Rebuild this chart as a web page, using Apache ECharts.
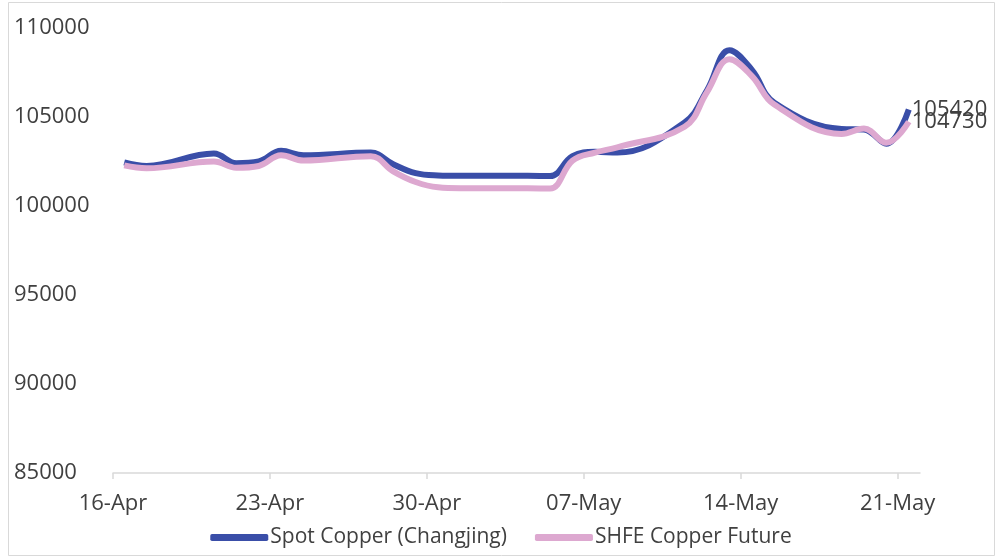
<!DOCTYPE html>
<html>
<head>
<meta charset="utf-8">
<script src="https://cdn.jsdelivr.net/npm/echarts@6/dist/echarts.min.js"></script>
<style>
html,body{margin:0;padding:0;background:#fff;}
#c{width:1002px;height:558px;}
</style>
</head>
<body>
<div id="c"></div>
<script>
// Data (2026, daily, trading days + May Day holiday flat values)
const dates = ['2026-04-16','2026-04-17','2026-04-20','2026-04-21','2026-04-22','2026-04-23','2026-04-24',
  '2026-04-27','2026-04-28','2026-04-29','2026-04-30','2026-05-01','2026-05-02','2026-05-03','2026-05-04','2026-05-05',
  '2026-05-06','2026-05-07','2026-05-08','2026-05-11','2026-05-12','2026-05-13','2026-05-14','2026-05-15',
  '2026-05-18','2026-05-19','2026-05-20','2026-05-21'];
const spotCopper = [102450,102250,102950,102400,102500,103100,102850,
  103000,102350,101850,101720,101700,101700,101700,101700,101680,
  102800,103050,103000,104700,106500,108750,107650,105800,
  104330,104300,103500,105420];
const shfeCopper = [102280,102120,102500,102150,102250,102850,102550,
  102800,101950,101350,101050,101000,101000,101000,101000,100980,
  102550,103000,103300,104450,106400,108250,107300,105700,
  104050,104350,103550,104730];
const tickLabels = ['16-Apr','23-Apr','30-Apr','07-May','14-May','21-May'];
const seriesNames = ['Spot Copper (Changjing)','SHFE Copper Future'];

const startDate = Date.UTC(2026,3,16);
function dayOffset(s){
  const p = s.split('-').map(Number);
  return (Date.UTC(p[0],p[1]-1,p[2]) - startDate)/86400000;
}
const xs = dates.map(d => dayOffset(d) + 0.5);
const spotData = xs.map((x,i)=>[x, spotCopper[i]]);
const shfeData = xs.map((x,i)=>[x, shfeCopper[i]]);

const FONT = 'Open Sans';
const TXT = '#404040';
const chart = echarts.init(document.getElementById('c'), null, {renderer:'canvas'});
function endLbl(){
  return {
    show:true, distance:3,
    fontFamily:FONT, fontSize:22, color:TXT,
    formatter: p => String(p.value[1])
  };
}
chart.setOption({
  animation:false,
  backgroundColor:'#fff',
  graphic:[{type:'rect', shape:{x:8.5,y:2.5,width:986,height:553}, style:{fill:'none',stroke:'#d9d9d9',lineWidth:1}, silent:true, z:-10}],
  grid:{left:113, right:82, top:28, bottom:85, containLabel:false},
  legend:{
    data:seriesNames, bottom:5, left:'center',
    itemWidth:58, itemHeight:7, itemGap:28, icon:'roundRect',
    textStyle:{fontFamily:FONT, fontSize:21, color:TXT, padding:[0,0,0,-3]}
  },
  xAxis:{
    type:'value', min:0, max:36, interval:7,
    axisLine:{show:true, lineStyle:{color:'#d9d9d9', width:1.5}},
    axisTick:{show:true, length:6, lineStyle:{color:'#d9d9d9', width:1.5}},
    splitLine:{show:false},
    axisLabel:{
      fontFamily:FONT, fontSize:22, color:TXT, margin:20,
      formatter: v => tickLabels[Math.round(v/7)] || ''
    }
  },
  yAxis:{
    type:'value', min:85000, max:110000, interval:5000,
    axisLine:{show:false}, axisTick:{show:false}, splitLine:{show:false},
    axisLabel:{fontFamily:FONT, fontSize:22, color:TXT, align:'left', margin:99,
      formatter: v => String(v)}
  },
  series:[
    {name:seriesNames[0], type:'line', data:spotData, smooth:0.4, symbol:'none',
     lineStyle:{color:'#3a4ea8', width:6}, itemStyle:{color:'#3a4ea8'},
     endLabel:endLbl()},
    {name:seriesNames[1], type:'line', data:shfeData, smooth:0.4, symbol:'none',
     lineStyle:{color:'#dda8d0', width:6}, itemStyle:{color:'#dda8d0'},
     endLabel:endLbl()}
  ]
});
</script>
</body>
</html>
